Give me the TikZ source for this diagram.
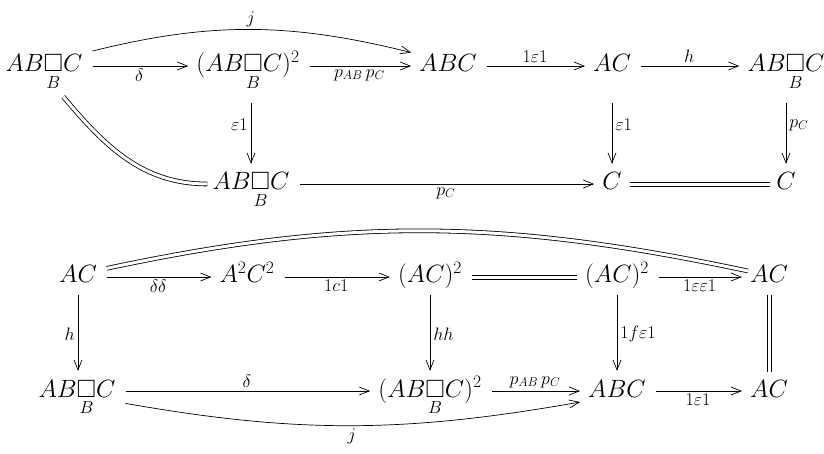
\RequirePackage{fix-cm}
\documentclass[tikz,border=0pt]{standalone}
\usepackage{amsmath,amssymb}
\usetikzlibrary{arrows.meta}
\newcommand{\mfont}{\fontsize{25}{30}\selectfont}
\newcommand{\lfont}{\fontsize{18}{20}\selectfont}
\newcommand{\sqB}{\smash[b]{\underset{B}{\square}}}
\newcommand{\ABsqC}{AB\sqB C}
\tikzset{
  obj/.style={anchor=base, font=\mfont, inner xsep=2pt, inner ysep=3pt, text height=18pt, text depth=6pt},
  lab/.style={font=\lfont, inner sep=3pt},
  ar/.style={-{Straight Barb[length=10pt,width=8pt]}, line width=0.7pt, shorten <=8pt, shorten >=6pt},
  vtop/.style={ar, shorten <=22pt, shorten >=5pt},
  vbot/.style={ar, shorten <=3pt, shorten >=5pt},
  eq/.style={double, double distance=3pt, line width=0.8pt, shorten <=8pt, shorten >=6pt},
  eqline/.style={line width=0.7pt, shorten <=8pt, shorten >=6pt}
}
\begin{document}
\begin{tikzpicture}[x=1pt,y=-1pt]
\useasboundingbox (0,0) rectangle (824,454);
% top diagram
\node[obj] (a1) at (44,72) {$\ABsqC$};
\node[obj] (a2) at (248,72) {$(\ABsqC)^2$};
\node[obj] (a3) at (448,72) {$ABC$};
\node[obj] (a4) at (612,72) {$AC$};
\node[obj] (a5) at (786,72) {$\ABsqC$};
\node[obj] (b1) at (251,190) {$\ABsqC$};
\node[obj] (b2) at (612,190) {$C$};
\node[obj] (b3) at (786,190) {$C$};
\draw[ar] (a1) -- node[lab,below]{$\delta$} (a2);
\draw[ar] (a2) -- node[lab,below]{$p_{AB}\,p_C$} (a3);
\draw[ar] (a3) -- node[lab,above]{$1\varepsilon1$} (a4);
\draw[ar] (a4) -- node[lab,above]{$h$} (a5);
\draw[ar] ([yshift=13pt]a1.east) to[out=14,in=166] node[lab,above]{$j$} ([yshift=12pt]a3.west);
\draw[vtop] (a2.south -| b1.north) -- node[lab,left]{$\varepsilon1$} (b1.north);
\draw[vtop] (a4.south) -- node[lab,right]{$\varepsilon1$} (b2.north);
\draw[vtop] (a5.south -| b3.north) -- node[lab,right]{$p_C$} (b3.north);
\draw[ar] (b1) -- node[lab,below]{$p_C$} (b2);
\draw[eqline, shorten <=6pt, shorten >=4pt] ([yshift=2pt]b2.east) -- ([yshift=2pt]b3.west);
\draw[eqline, shorten <=6pt, shorten >=4pt] ([yshift=-2pt]b2.east) -- ([yshift=-2pt]b3.west);
\draw[eq, shorten <=2pt, shorten >=3pt] ([xshift=18pt,yshift=-14pt]a1.south) to[out=-50,in=180] (b1.west);
% bottom diagram
\node[obj] (c1) at (78,283) {$AC$};
\node[obj] (c2) at (247,283) {$A^2C^2$};
\node[obj] (c3) at (430,283) {$(AC)^2$};
\node[obj] (c4) at (617,283) {$(AC)^2$};
\node[obj] (c5) at (769,283) {$AC$};
\node[obj] (d1) at (77,397) {$\ABsqC$};
\node[obj] (d2) at (430,397) {$(\ABsqC)^2$};
\node[obj] (d3) at (617,397) {$ABC$};
\node[obj] (d4) at (769,397) {$AC$};
\draw[ar] (c1) -- node[lab,below]{$\delta\delta$} (c2);
\draw[ar] (c2) -- node[lab,below]{$1c1$} (c3);
\draw[eqline] ([yshift=2pt]c3.east) -- ([yshift=2pt]c4.west);
\draw[eqline] ([yshift=-2pt]c3.east) -- ([yshift=-2pt]c4.west);
\draw[ar] (c4) -- node[lab,below]{$1\varepsilon\varepsilon1$} (c5);
\draw[eq, shorten <=8pt, shorten >=0pt] ([yshift=7pt]c1.east) to[out=12,in=168] ([yshift=6pt]c5.west);
\draw[vbot] (c1.south) -- node[lab,left]{$h$} (c1.south |- d1.north);
\draw[vbot] (c3.south) -- node[lab,right]{$hh$} (d2.north);
\draw[vbot] (c4.south) -- node[lab,right]{$1f\varepsilon1$} (d3.north);
\draw[eqline, shorten <=3pt, shorten >=4pt] ([xshift=2pt]c5.south) -- ([xshift=2pt]d4.north);
\draw[eqline, shorten <=3pt, shorten >=4pt] ([xshift=-2pt]c5.south) -- ([xshift=-2pt]d4.north);
\draw[ar] (d1) -- node[lab,above]{$\delta$} (d2);
\draw[ar] (d2) -- node[lab,above]{$p_{AB}\,p_C$} (d3);
\draw[ar] (d3) -- node[lab,below]{$1\varepsilon1$} (d4);
\draw[ar] ([yshift=-11pt]d1.east) to[out=-10,in=-170] node[lab,below]{$j$} ([yshift=-10pt]d3.west);
\end{tikzpicture}
\end{document}
